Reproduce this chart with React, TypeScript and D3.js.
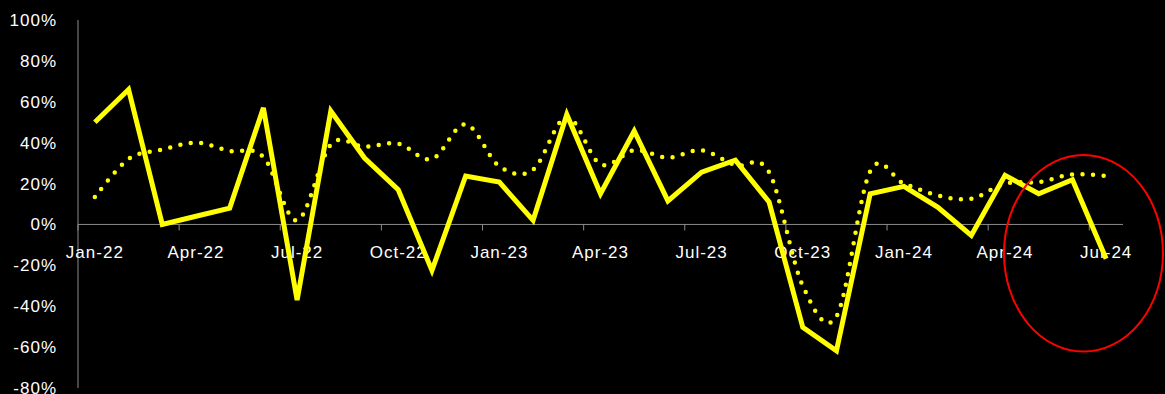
import React from "react";
import * as d3 from "d3";

const months = [
  "Jan-22","Feb-22","Mar-22","Apr-22","May-22","Jun-22","Jul-22","Aug-22","Sep-22","Oct-22","Nov-22","Dec-22",
  "Jan-23","Feb-23","Mar-23","Apr-23","May-23","Jun-23","Jul-23","Aug-23","Sep-23","Oct-23","Nov-23","Dec-23",
  "Jan-24","Feb-24","Mar-24","Apr-24","May-24","Jun-24","Jul-24",
];

// solid series (%)
const solidValues = [
  50, 66, 0, 4, 8, 57, -37, 55.5, 32.5, 17, -22.5, 23.7,
  20.7, 2, 53.8, 15, 45.7, 11.5, 25.6, 31.4, 11, -50.3, -61.8, 15,
  18.6, 8.5, -5.4, 24, 15, 21.9, -16.8,
];

// dotted (smoothed) series (%)
const dottedValues = [
  13.4, 32, 36.6, 40, 36, 33, 2, 39, 38, 39.5, 32, 49,
  28.4, 26.8, 52.6, 29.4, 36.3, 32.7, 36.3, 29, 25.6, -30, -45, 26,
  20, 14.2, 12.6, 20, 20.7, 24.5, 23.7,
];

const yTicks = [100, 80, 60, 40, 20, 0, -20, -40, -60, -80];

const W = 1165;
const H = 394;

export default function App() {
  const x = d3.scaleBand<string>().domain(months).range([78, 1123]).padding(0);
  const y = d3.scaleLinear().domain([-80, 100]).range([388, 20]);
  const cx = (m: string) => (x(m) as number) + x.bandwidth() / 2;

  const solidLine = d3
    .line<number>()
    .x((_, i) => cx(months[i]))
    .y((v) => y(v));
  const dottedLine = d3
    .line<number>()
    .x((_, i) => cx(months[i]))
    .y((v) => y(v))
    .curve(d3.curveCatmullRom.alpha(0));

  const tickIdx = months.map((_, i) => i).filter((i) => i % 3 === 0);
  const font = "'Liberation Sans', Arial, sans-serif";

  return (
    <svg
      width={W}
      height={H}
      style={{ position: "absolute", left: 0, top: 0, background: "#000", display: "block" }}
    >
      <rect x={0} y={0} width={W} height={H} fill="#000" />
      {/* y axis line */}
      <line x1={78} x2={78} y1={y(100)} y2={y(-80)} stroke="#8c8c8c" strokeWidth={1} />
      {/* x axis line at 0 */}
      <line x1={78} x2={1123} y1={y(0)} y2={y(0)} stroke="#8c8c8c" strokeWidth={1} />
      {tickIdx.map((i) => (
        <line
          key={"t" + i}
          x1={x(months[i]) as number}
          x2={x(months[i]) as number}
          y1={y(0)}
          y2={y(0) + 6}
          stroke="#8c8c8c"
          strokeWidth={1}
        />
      ))}
      {yTicks.map((t) => (
        <text
          key={"y" + t}
          x={57}
          y={y(t)}
          dy="0.35em"
          textAnchor="end"
          fill="#fff"
          fontFamily={font}
          fontSize={17}
          letterSpacing={1}
        >
          {t + "%"}
        </text>
      ))}
      {tickIdx.map((i) => (
        <text
          key={"x" + i}
          x={cx(months[i])}
          y={y(0) + 28}
          dy="0.35em"
          textAnchor="middle"
          fill="#fff"
          fontFamily={font}
          fontSize={17}
          letterSpacing={1}
        >
          {months[i]}
        </text>
      ))}
      <path
        d={dottedLine(dottedValues) as string}
        fill="none"
        stroke="#ffff00"
        strokeWidth={4.5}
        strokeLinecap="round"
        strokeDasharray="0 10.5"
      />
      <path
        d={solidLine(solidValues) as string}
        fill="none"
        stroke="#ffff00"
        strokeWidth={5}
        strokeLinejoin="miter"
        strokeLinecap="butt"
      />
      <ellipse cx={1083.5} cy={253.3} rx={79.5} ry={98.3} fill="none" stroke="#ff0000" strokeWidth={2} />
    </svg>
  );
}
